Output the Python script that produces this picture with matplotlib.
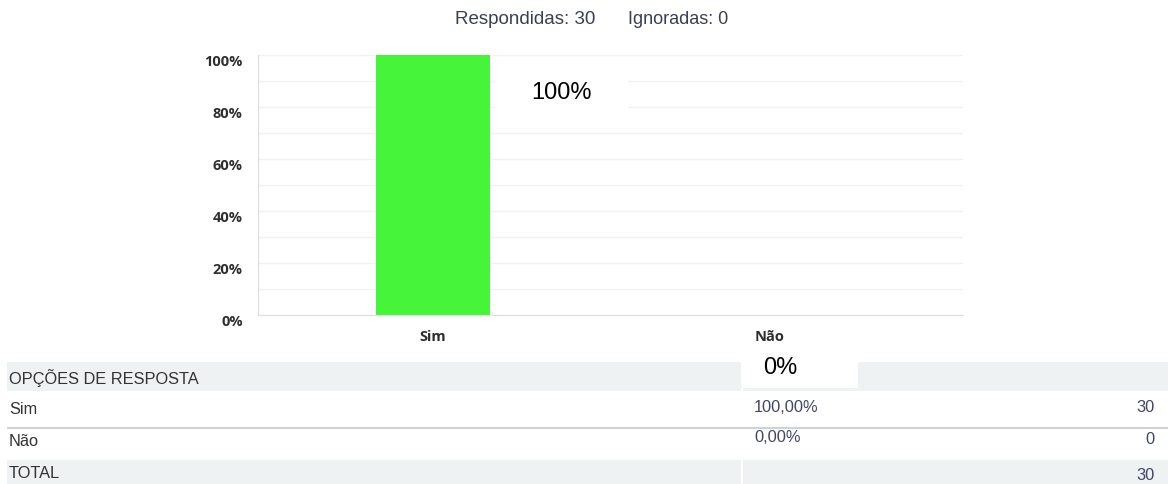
import matplotlib
matplotlib.use("Agg")
import matplotlib.pyplot as plt
from matplotlib.patches import Rectangle

# survey question results
categories = ["Sim", "Não"]
percentages = [100, 0]
counts = [30, 0]
answered = 30
skipped = 0

W, H = 1171, 484
DPI = 100

fig = plt.figure(figsize=(W / DPI, H / DPI), dpi=DPI)
fig.patch.set_facecolor("white")


def fx(x):
    return x / W


def fy(y):
    return 1 - y / H


def fig_rect(x0, y0, x1, y1, color, z=0):
    # rectangle given in pixel coords measured from the top-left corner
    fig.patches.append(Rectangle((fx(x0), fy(y1)), fx(x1 - x0), (y1 - y0) / H,
                                 transform=fig.transFigure, facecolor=color,
                                 edgecolor="none", zorder=z))


# header line
fig.text(fx(455), fy(19), f"Respondidas: {answered}", fontsize=13.5,
         family="Liberation Sans", color="#3a3f55", va="center", ha="left")
fig.text(fx(628), fy(19), f"Ignoradas: {skipped}", fontsize=13,
         family="Liberation Sans", color="#3a3f55", va="center", ha="left")

# bar chart
ax = fig.add_axes([fx(258), fy(315), fx(963 - 258), 260 / H])
x = list(range(len(categories)))
ax.bar(x, percentages, width=0.34, color="#46f43a", zorder=3)
ax.set_xlim(-0.52, 1.573)
ax.set_ylim(0, 100)
ax.set_yticks(range(0, 101, 20))
ax.set_yticks(range(0, 101, 10), minor=True)
ax.set_yticklabels([f"{v}%" for v in range(0, 101, 20)])
ax.set_xticks(x)
ax.set_xticklabels(categories)
ax.grid(axis="y", which="both", color="#f1f1f1", linewidth=1, zorder=0)
for s in ["top", "right"]:
    ax.spines[s].set_visible(False)
for s in ["left", "bottom"]:
    ax.spines[s].set_color("#dddddd")
ax.tick_params(axis="both", which="both", length=0)
ax.tick_params(axis="y", pad=11)
ax.tick_params(axis="x", pad=11)
for lab in ax.get_yticklabels() + ax.get_xticklabels():
    lab.set_family("Open Sans")
    lab.set_fontweight("bold")
    lab.set_fontsize(10.5)
    lab.set_color("#2e2e2e")
for lab in ax.get_yticklabels():
    lab.set_verticalalignment("top")

# table below the chart
fig_rect(7, 362, 1168, 391, "#eef2f2")
fig_rect(7, 460, 1168, 484, "#eef2f2")
fig_rect(741, 362, 743, 391, "white", 1)
fig_rect(741, 460, 743, 484, "white", 1)
fig_rect(7, 427, 1168, 429, "#cfd2d2", 1)

tstyle = dict(fontsize=11.8, family="Liberation Sans", color="#333333", va="center")
vstyle = dict(fontsize=11.8, family="Liberation Sans", color="#40456a", va="center")
fig.text(fx(9), fy(378), "OPÇÕES DE RESPOSTA", **tstyle)
fig.text(fx(755), fy(378), "RESPOSTAS", **tstyle)
row_y = [409, 440]
for cat, pct, n, yy in zip(categories, percentages, counts, row_y):
    fig.text(fx(9), fy(yy + 1), cat, **tstyle)
    fig.text(fx(754), fy(yy - 2), f"{pct:.2f}%".replace(".", ","), **vstyle)
    fig.text(fx(1155), fy(yy - 1), str(n), ha="right", **vstyle)
fig.text(fx(9), fy(474), "TOTAL", **tstyle)
fig.text(fx(1155), fy(475), str(sum(counts)), ha="right", **vstyle)

# value labels on white boxes, placed relative to each bar top
# (box dx, box dy below top, box w, box h, text dx, text dy below top)
label_boxes = [(62, 15, 133, 42, 128, 38), (-27, 42, 115, 31, 10, 53)]
fig.canvas.draw()
for xi, pct, (bdx, bdy, bw, bh, tdx, tdy) in zip(x, percentages, label_boxes):
    px, py = ax.transData.transform((xi, pct))
    top = H - py
    fig_rect(px + bdx, top + bdy, px + bdx + bw, top + bdy + bh, "white", 5)
    fig.text(fx(px + tdx), fy(top + tdy), f"{pct}%", fontsize=17,
             family="Liberation Sans", color="black", ha="center",
             va="center", zorder=6)

fig.savefig("out.png", dpi=DPI)
